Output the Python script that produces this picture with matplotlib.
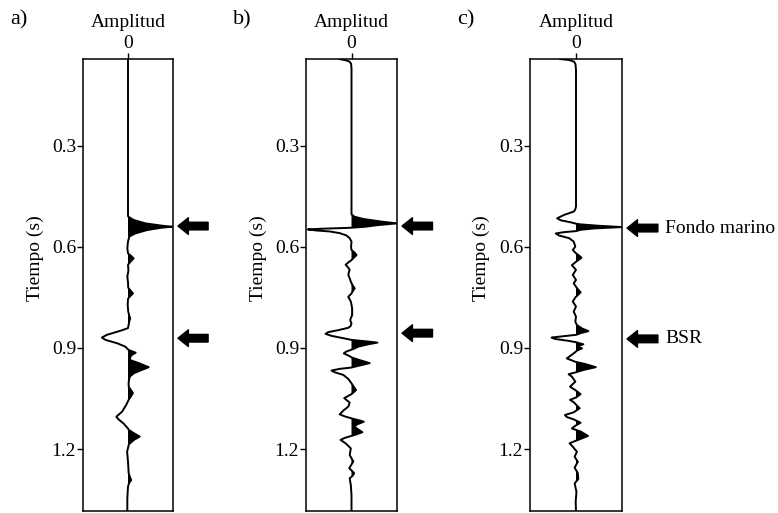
import matplotlib.pyplot as plt
import numpy as np

# ---------------------------------------------------------------------------
# Traces: time (s) and normalised amplitude
# ---------------------------------------------------------------------------
t_a = [0.042, 0.505, 0.510, 0.520, 0.530, 0.537, 0.540, 0.543, 0.550, 0.560,
       0.569, 0.584, 0.604, 0.619, 0.627, 0.634, 0.643, 0.653, 0.670, 0.688,
       0.705, 0.721, 0.730, 0.738, 0.746, 0.754, 0.772, 0.792, 0.805, 0.812,
       0.820, 0.841, 0.849, 0.861, 0.869, 0.876, 0.886, 0.896, 0.906, 0.914,
       0.922, 0.931, 0.936, 0.945, 0.957, 0.965, 0.975, 0.985, 1.000, 1.015,
       1.034, 1.054, 1.069, 1.089, 1.104, 1.112, 1.124, 1.139, 1.143, 1.153,
       1.163, 1.173, 1.186, 1.208, 1.237, 1.272, 1.282, 1.292, 1.302, 1.312,
       1.346, 1.386]
amp_a = [0.0, 0.0, 0.005, 0.126, 0.385, 0.76, 0.98, 0.74, 0.42, 0.16,
         0.03, 0.0, -0.015, 0.0, 0.07, 0.126, 0.06, 0.0, 0.01, -0.015,
         0.0, 0.005, 0.06, 0.11, 0.05, 0.0, -0.007, 0.005, 0.03, 0.05,
         0.03, 0.0, -0.17, -0.47, -0.58, -0.50, -0.24, -0.06, 0.015, 0.17,
         0.07, 0.04, 0.05, 0.24, 0.46, 0.31, 0.13, 0.04, 0.015, 0.015,
         0.11, 0.015, -0.04, -0.13, -0.26, -0.21, -0.10, 0.0, 0.015, 0.13,
         0.26, 0.13, 0.02, -0.02, 0.0, 0.015, 0.04, 0.07, 0.02, 0.0,
         -0.015, -0.015]

t_b = [0.042, 0.046, 0.050, 0.056, 0.070, 0.503, 0.510, 0.517, 0.525, 0.530,
       0.535, 0.540, 0.543, 0.546, 0.548, 0.551, 0.554, 0.559, 0.566, 0.574,
       0.584, 0.600, 0.609, 0.617, 0.624, 0.631, 0.639, 0.646, 0.653, 0.660,
       0.668, 0.676, 0.683, 0.693, 0.703, 0.713, 0.723, 0.731, 0.738, 0.748,
       0.762, 0.782, 0.802, 0.817, 0.827, 0.835, 0.840, 0.847, 0.853, 0.858,
       0.864, 0.871, 0.876, 0.881, 0.884, 0.889, 0.896, 0.903, 0.911, 0.916,
       0.923, 0.929, 0.936, 0.945, 0.952, 0.958, 0.962, 0.967, 0.972, 0.980,
       0.992, 1.005, 1.015, 1.025, 1.031, 1.037, 1.049, 1.062, 1.074, 1.086,
       1.097, 1.103, 1.109, 1.116, 1.119, 1.127, 1.134, 1.142, 1.150, 1.156,
       1.161, 1.167, 1.173, 1.183, 1.198, 1.218, 1.237, 1.257, 1.266, 1.272,
       1.280, 1.287, 1.307, 1.337, 1.386]
amp_b = [-0.27, -0.12, -0.04, -0.01, 0.0, 0.0, 0.06, 0.26, 0.67, 1.0,
         0.59, 0.30, 0.0, -0.67, -0.96, -0.78, -0.48, -0.26, -0.11, -0.04,
         0.0, -0.01, 0.0, 0.07, 0.11, 0.06, 0.0, -0.07, -0.13, -0.08,
         -0.04, -0.06, -0.07, -0.04, -0.015, 0.02, 0.07, 0.03, 0.0, -0.07,
         -0.015, 0.015, 0.015, -0.03, 0.0, -0.02, -0.07, -0.29, -0.51, -0.57,
         -0.44, -0.18, 0.0, 0.37, 0.57, 0.37, 0.15, 0.04, -0.12, -0.17,
         -0.06, 0.02, 0.18, 0.40, 0.18, 0.0, -0.26, -0.44, -0.37, -0.18,
         -0.07, 0.0, 0.05, 0.10, 0.05, 0.0, -0.16, -0.04, -0.07, -0.18,
         -0.26, -0.15, 0.0, 0.2, 0.27, 0.12, 0.06, 0.15, 0.24, 0.12,
         0.0, -0.15, -0.24, -0.13, -0.015, -0.04, 0.04, -0.05, 0.02, 0.06,
         0.02, -0.04, -0.015, 0.0, 0.0]

t_c = [0.042, 0.045, 0.050, 0.058, 0.075, 0.480, 0.490, 0.495, 0.505, 0.515,
       0.521, 0.527, 0.531, 0.533, 0.537, 0.541, 0.545, 0.549, 0.553, 0.556,
       0.560, 0.566, 0.574, 0.584, 0.599, 0.609, 0.619, 0.626, 0.632, 0.638,
       0.644, 0.654, 0.668, 0.683, 0.698, 0.708, 0.722, 0.735, 0.743, 0.750,
       0.762, 0.777, 0.792, 0.807, 0.822, 0.832, 0.842, 0.850, 0.856, 0.861,
       0.865, 0.869, 0.873, 0.879, 0.883, 0.889, 0.895, 0.901, 0.908, 0.916,
       0.926, 0.931, 0.941, 0.948, 0.957, 0.965, 0.972, 0.978, 0.985, 1.000,
       1.015, 1.025, 1.037, 1.047, 1.054, 1.061, 1.079, 1.091, 1.099, 1.105,
       1.112, 1.122, 1.131, 1.139, 1.148, 1.161, 1.170, 1.176, 1.183, 1.193,
       1.208, 1.223, 1.238, 1.255, 1.272, 1.289, 1.302, 1.327, 1.356, 1.386]
amp_c = [-0.35, -0.15, -0.04, -0.01, 0.0, 0.0, -0.02, -0.05, -0.26, -0.41,
         -0.33, -0.11, 0.0, 0.1, 0.48, 1.0, 0.4, 0.1, 0.0, -0.26,
         -0.44, -0.37, -0.15, -0.05, -0.015, -0.07, 0.0, 0.07, 0.12, 0.06,
         0.0, -0.09, 0.0, -0.07, 0.0, -0.05, 0.02, 0.10, 0.04, -0.015,
         -0.07, 0.0, -0.05, 0.0, -0.015, 0.02, 0.13, 0.27, 0.10, 0.0,
         -0.27, -0.53, -0.46, -0.15, 0.0, 0.16, 0.02, 0.13, 0.02, -0.05,
         -0.15, -0.2, -0.015, 0.21, 0.43, 0.17, 0.0, -0.16, -0.09, -0.015,
         -0.13, -0.015, 0.10, 0.0, -0.13, -0.05, 0.08, -0.05, -0.24, -0.2,
         -0.05, 0.10, -0.015, -0.09, 0.10, 0.26, 0.10, -0.015, -0.14, -0.07,
         0.02, -0.03, 0.04, -0.03, 0.04, 0.05, -0.03, 0.01, -0.007, 0.0]

panel_labels = ['a)', 'b)', 'c)']
y_ticks = [0.3, 0.6, 0.9, 1.2]
# arrow times (seafloor, BSR) for each panel
arrow_times = [(0.538, 0.871), (0.538, 0.856), (0.544, 0.873)]
arrow_text = ['Fondo marino', 'BSR']

plt.rcParams['font.family'] = ['Liberation Serif', 'DejaVu Serif']
plt.rcParams['font.size'] = 14

fig = plt.figure(figsize=(7.78, 5.13), dpi=100)
W, H = 778, 513
boxes = [(83, 173), (306, 397), (530, 622)]  # left/right edges in px
top_px, bot_px = 59, 511

traces = [(t_a, amp_a), (t_b, amp_b), (t_c, amp_c)]
for i, ((x0, x1), (tt, aa)) in enumerate(zip(boxes, traces)):
    ax = fig.add_axes([x0 / W, (H - bot_px) / H, (x1 - x0) / W, (bot_px - top_px) / H])
    tt = np.array(tt)
    aa = np.array(aa)
    ax.fill_betweenx(tt, 0, aa, where=aa > 0, interpolate=True, color='black', lw=0)
    ax.plot(aa, tt, color='black', lw=1.4, solid_joinstyle='round')
    ax.set_xlim(-1, 1)
    ax.set_ylim(1.384, 0.042)
    ax.xaxis.tick_top()
    ax.xaxis.set_label_position('top')
    ax.set_xticks([0])
    ax.set_xlabel('Amplitud', labelpad=6)
    ax.set_yticks(y_ticks)
    ax.set_yticklabels([f'{v:.1f}' for v in y_ticks])
    ax.set_ylabel('Tiempo (s)')
    ax.yaxis.set_label_coords(-0.43, 0.56)
    ax.tick_params(direction='out', length=4, width=1, pad=1)
    for s in ax.spines.values():
        s.set_linewidth(1.1)

    tr = ax.get_yaxis_transform()
    for j, ty in enumerate(arrow_times[i]):
        ax.annotate('', xy=(1.055, ty), xycoords=tr, xytext=(1.39, ty), textcoords=tr,
                    arrowprops=dict(arrowstyle='simple,head_width=1.2,head_length=0.75,tail_width=0.55',
                                    fc='black', ec='black', mutation_scale=10,
                                    shrinkA=0, shrinkB=0),
                    annotation_clip=False)
        if i == 2:
            ax.text(1.47, ty, arrow_text[j], transform=tr, va='center', ha='left')

    fig.text((x0 - 73) / W, 1 - 20 / H, panel_labels[i], va='center', ha='left', fontsize=16)

fig.savefig('out.png', dpi=100)
